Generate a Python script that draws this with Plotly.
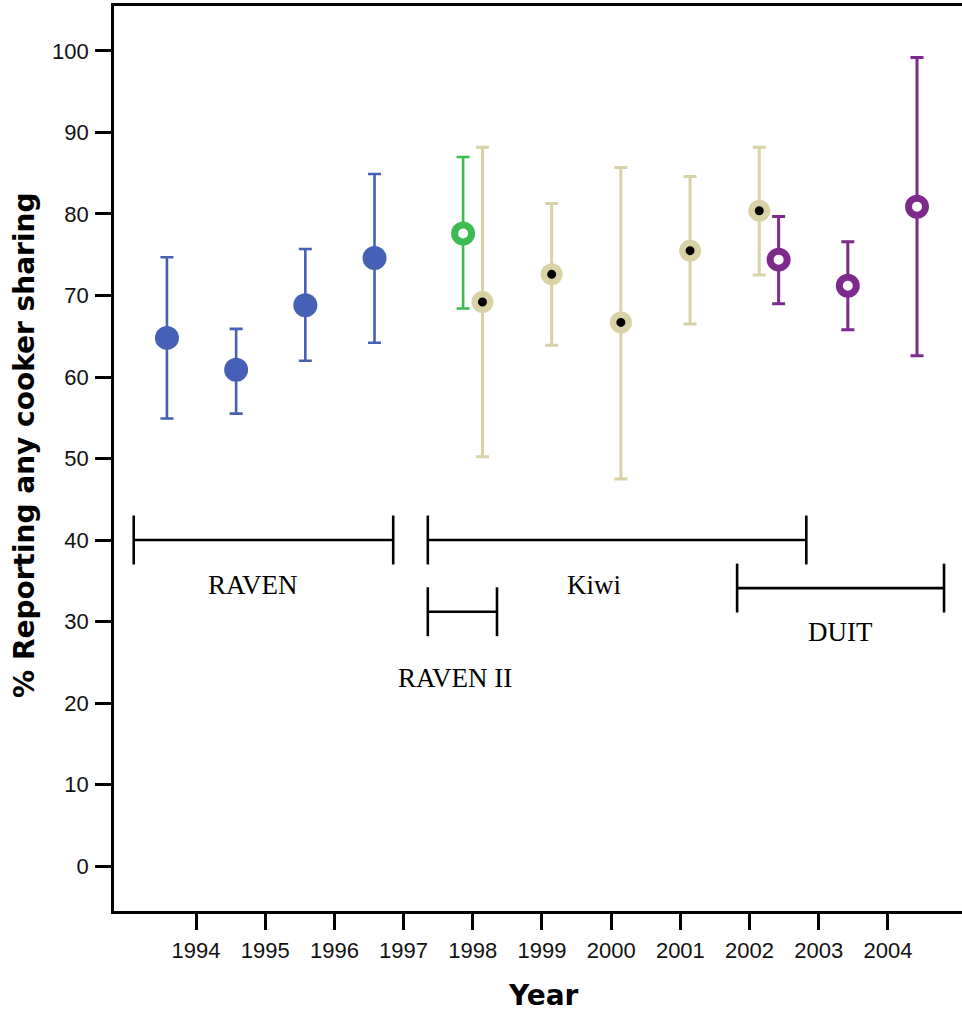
import plotly.graph_objects as go

# ---- data ----
raven_years = [1994, 1995, 1996, 1997]
raven_pct = [64.8, 60.9, 68.8, 74.6]
raven_lo = [54.9, 55.5, 62.0, 64.2]
raven_hi = [74.7, 65.9, 75.7, 84.9]

raven2_years = [1998]
raven2_pct = [77.6]
raven2_lo = [68.4]
raven2_hi = [87.0]

kiwi_years = [1998, 1999, 2000, 2001, 2002]
kiwi_pct = [69.2, 72.6, 66.7, 75.5, 80.4]
kiwi_lo = [50.2, 63.9, 47.5, 66.5, 72.5]
kiwi_hi = [88.2, 81.3, 85.7, 84.6, 88.2]

duit_years = [2002, 2003, 2004]
duit_pct = [74.4, 71.2, 80.9]
duit_lo = [69.0, 65.8, 62.6]
duit_hi = [79.7, 76.6, 99.2]

# study period brackets
study_names = ["RAVEN", "Kiwi", "RAVEN II", "DUIT"]
study_start = [1993.10, 1997.35, 1997.35, 2001.82]
study_end = [1996.85, 2002.82, 1998.35, 2004.81]
study_level = [40.0, 40.0, 31.2, 34.1]
label_x = [1994.82, 1999.75, 1997.74, 2003.31]
label_y = [34.5, 34.5, 23.1, 28.7]

year_ticks = list(range(1994, 2005))
pct_ticks = list(range(0, 101, 10))

# style
offsets = {"raven": -0.42, "raven2": -0.14, "kiwi": 0.14, "duit": 0.42}
BLUE = "#4660b6"
GREEN = "#3dbb50"
TAN = "#d8d2a6"
PURPLE = "#7d2a8c"

fig = go.Figure()


def err(pct, lo, hi):
    return [h - p for p, h in zip(pct, hi)], [p - l for p, l in zip(pct, lo)]


def add_series(years, pct, lo, hi, off, color, marker, thick):
    up, down = err(pct, lo, hi)
    fig.add_trace(go.Scatter(
        x=[y + off for y in years], y=pct, mode="markers",
        marker=marker,
        error_y=dict(type="data", symmetric=False, array=up, arrayminus=down,
                     color=color, thickness=thick, width=6.5),
        showlegend=False, hoverinfo="x+y"))


add_series(raven_years, raven_pct, raven_lo, raven_hi, offsets["raven"], BLUE,
           dict(size=24, color=BLUE, line=dict(width=0)), 2.6)
add_series(raven2_years, raven2_pct, raven2_lo, raven2_hi, offsets["raven2"], GREEN,
           dict(size=17, color="white", line=dict(width=7, color=GREEN)), 2.6)
add_series(kiwi_years, kiwi_pct, kiwi_lo, kiwi_hi, offsets["kiwi"], TAN,
           dict(size=15.5, color="black", line=dict(width=6.5, color=TAN)), 3)
add_series(duit_years, duit_pct, duit_lo, duit_hi, offsets["duit"], PURPLE,
           dict(size=17, color="white", line=dict(width=7, color=PURPLE)), 3)

# brackets
half = 3.0
for s, e, lv in zip(study_start, study_end, study_level):
    fig.add_shape(type="line", x0=s, x1=e, y0=lv, y1=lv, xref="x", yref="y",
                  line=dict(color="black", width=2.6))
    for xx in (s, e):
        fig.add_shape(type="line", x0=xx, x1=xx, y0=lv - half, y1=lv + half,
                      xref="x", yref="y", line=dict(color="black", width=2.6))

for name, lx, ly in zip(study_names, label_x, label_y):
    fig.add_annotation(x=lx, y=ly, xref="x", yref="y", text=name, showarrow=False,
                       font=dict(family="Liberation Serif, Times New Roman, serif",
                                 size=27, color="black"))

# axis titles
fig.add_annotation(x=-0.105, y=0.515, xref="paper", yref="paper",
                   xanchor="center", yanchor="middle",
                   text="<b>% Reporting any cooker sharing</b>", textangle=-90,
                   showarrow=False,
                   font=dict(family="DejaVu Sans, Verdana, sans-serif", size=28, color="black"))
fig.add_annotation(x=0.506, y=-0.093, xref="paper", yref="paper",
                   xanchor="center", yanchor="middle",
                   text="<b>Year</b>", showarrow=False,
                   font=dict(family="DejaVu Sans, Verdana, sans-serif", size=28, color="black"))

tickfont = dict(family="Liberation Sans, Arial, sans-serif", size=22, color="#111")
fig.update_xaxes(range=[1992.815, 2005.07], tickvals=year_ticks,
                 ticktext=[str(y) for y in year_ticks],
                 showgrid=False, zeroline=False, showline=True, linecolor="black",
                 linewidth=2.6, mirror=True, ticks="outside", ticklen=16,
                 tickwidth=2.6, tickcolor="black", tickfont=tickfont,
                 ticklabelstandoff=2)
fig.update_yaxes(range=[-5.52, 105.52], tickvals=pct_ticks,
                 showgrid=False, zeroline=False, showline=True, linecolor="black",
                 linewidth=2.6, ticks="outside", ticklen=16, tickwidth=2.6,
                 tickcolor="black", tickfont=tickfont, ticklabelstandoff=2)

fig.update_layout(width=962, height=1012,
                  margin=dict(l=114, r=0, t=6, b=101),
                  plot_bgcolor="white", paper_bgcolor="white")

fig.write_html("out.html")
